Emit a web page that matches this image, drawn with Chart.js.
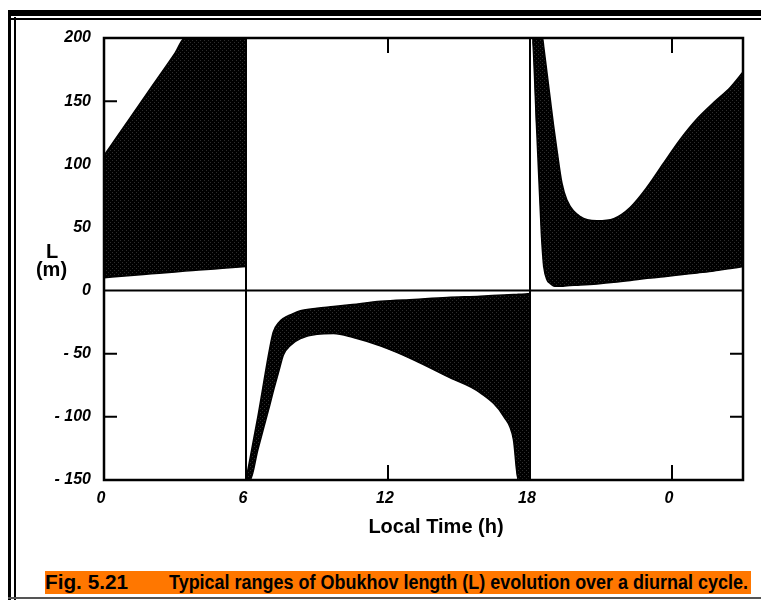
<!DOCTYPE html>
<html>
<head>
<meta charset="utf-8">
<script src="https://cdn.jsdelivr.net/npm/chart.js@4/dist/chart.umd.min.js"></script>
<style>
  html, body { margin: 0; padding: 0; background: #fff; }
  #wrap { position: relative; width: 761px; height: 600px; overflow: hidden; }
  #chart { position: absolute; left: 0; top: 0; }
  .bar { position: absolute; background: #000; }
  #caption { position: absolute; left: 45px; top: 571px; width: 706px; height: 23px; background: #ff7700;
             font-family: "Liberation Sans", Arial, sans-serif; font-weight: bold; font-size: 20px; line-height: 23px; color: #000; }
  #caption span { position: absolute; top: 0; white-space: nowrap; transform-origin: left center; }
</style>
</head>
<body>
<div id="wrap">
  <canvas id="chart" width="761" height="600"></canvas>
  <div class="bar" style="left:8px;top:10px;width:753px;height:6px"></div>
  <div class="bar" style="left:8px;top:17.5px;width:753px;height:2.5px"></div>
  <div class="bar" style="left:8px;top:10px;width:3px;height:590px"></div>
  <div class="bar" style="left:13.5px;top:17px;width:2.5px;height:583px"></div>
  <div class="bar" style="left:8px;top:597px;width:753px;height:2px;background:#555"></div>
  <div id="caption">
    <span id="capA" style="left:0">Fig. 5.21</span>
    <span id="capB" style="left:124px">Typical ranges of Obukhov length (L) evolution over a diurnal cycle.</span>
  </div>
</div>
<script>
// morning (0-6 h), stable range of L
const morningHours = [0, 1, 2, 3, 3.42, 4, 5, 6];
const morningLower = [10.2, 11.8, 13.3, 14.8, 15.4, 16.2, 17.6, 19];
const morningUpper = [107, 134, 161, 188, 200, 200, 200, 200];

// daytime (6-18 h), unstable range of L
const dayHours = [6.0, 6.17, 6.5, 7.0, 7.15, 7.4, 7.58, 7.9, 8.3, 9.0, 9.7, 10.5, 11.7, 13.1, 14.5, 15.9, 16.9, 17.3, 17.5, 17.8, 18.0];
const dayLower = [-150, -150, -126, -91, -80, -63, -51, -43, -38, -34.5, -34, -37, -44, -55, -68, -81, -100, -118, -150, -150, -150];
const dayUpper = [-150, -133, -100, -46, -33, -25, -22, -19, -16, -14, -12.7, -11, -8.5, -7, -5.5, -4.5, -3.5, -3.2, -3, -2.7, -2.5];

// evening / night (18-27 h), stable range of L
const nightHours = [18.0, 18.08, 18.29, 18.48, 18.53, 18.58, 18.72, 18.86, 19.0, 19.14, 19.35, 19.56, 20.13, 20.83, 21.54, 22.24, 22.95, 23.65, 24.36, 25.06, 25.77, 26.47, 27.0];
const nightLower = [200, 200, 124.5, 45, 30, 19, 8.4, 5.5, 3.6, 3.4, 3.5, 3.8, 4.4, 5.3, 6.5, 8, 9.7, 11, 12.5, 14, 15.5, 17.5, 19];
const nightUpper = [200, 200, 200, 200, 200, 193, 172, 151, 130, 111, 85, 71.7, 58.5, 55.3, 57, 66, 82, 101, 120, 136, 149, 161, 173];

const xTicks = [0, 6, 12, 18, 24];
const yTicks = [-150, -100, -50, 0, 50, 100, 150, 200];
const innerYTicks = [150, 100, 50, -50, -100];
const innerXTicks = [12, 24];
const dividers = [6, 18];

// speckled dark fill
const pat = document.createElement('canvas');
pat.width = 4; pat.height = 4;
const pc = pat.getContext('2d');
pc.fillStyle = '#000';
pc.fillRect(0, 0, 4, 4);
pc.fillStyle = '#2e2e2e';
pc.fillRect(0, 0, 1, 1);
pc.fillRect(2, 2, 1, 1);
const shade = pc.createPattern(pat, 'repeat');

function pts(xs, ys) {
    return xs.map((x, i) => ({ x: x, y: ys[i] }));
}

function band(xs, lower, upper) {
    const common = { borderColor: '#000', borderWidth: 1.5, pointRadius: 0, cubicInterpolationMode: 'monotone' };
    return [
        Object.assign({ data: pts(xs, lower), fill: false }, common),
        Object.assign({ data: pts(xs, upper), fill: '-1', backgroundColor: shade }, common),
    ];
}

const frame = {
    id: 'frame',
    beforeDatasetsDraw(chart) {
        const { ctx, chartArea: a, scales: { x, y } } = chart;
        ctx.save();
        ctx.strokeStyle = '#000';
        ctx.lineWidth = 2;
        ctx.beginPath();
        innerYTicks.forEach(v => {
            const py = y.getPixelForValue(v);
            ctx.moveTo(a.left, py); ctx.lineTo(a.left + 13, py);
            ctx.moveTo(a.right, py); ctx.lineTo(a.right - 13, py);
        });
        innerXTicks.forEach(v => {
            const px = x.getPixelForValue(v);
            ctx.moveTo(px, a.top); ctx.lineTo(px, a.top + 15);
            ctx.moveTo(px, a.bottom); ctx.lineTo(px, a.bottom - 15);
        });
        ctx.stroke();
        ctx.restore();
    },
    afterDatasetsDraw(chart) {
        const { ctx, chartArea: a, scales: { x, y } } = chart;
        ctx.save();
        ctx.strokeStyle = '#000';
        ctx.lineWidth = 2;
        ctx.beginPath();
        dividers.forEach(v => {
            const px = x.getPixelForValue(v);
            ctx.moveTo(px, a.top); ctx.lineTo(px, a.bottom);
        });
        const y0 = y.getPixelForValue(0);
        ctx.moveTo(a.left, y0); ctx.lineTo(a.right, y0);
        ctx.stroke();
        ctx.lineWidth = 2.5;
        ctx.strokeRect(a.left, a.top, a.right - a.left, a.bottom - a.top);

        // axis titles
        ctx.fillStyle = '#000';
        ctx.font = 'bold 20px "Liberation Sans", Arial, sans-serif';
        ctx.textAlign = 'center';
        ctx.textBaseline = 'alphabetic';
        ctx.fillText('L', 52, 258);
        ctx.fillText('(m)', 51.5, 276);
        ctx.fillText('Local Time (h)', 436, 533);
        ctx.restore();
    }
};

const tickFont = { family: '"Liberation Sans", Arial, sans-serif', size: 16, weight: 'bold', style: 'italic' };

new Chart(document.getElementById('chart'), {
    type: 'line',
    data: {
        datasets: [
            ...band(morningHours, morningLower, morningUpper),
            ...band(dayHours, dayLower, dayUpper),
            ...band(nightHours, nightLower, nightUpper),
        ],
    },
    options: {
        responsive: false,
        devicePixelRatio: 1,
        animation: false,
        layout: { padding: { top: 38, right: 18, left: 0, bottom: 0 } },
        plugins: { legend: { display: false }, tooltip: { enabled: false } },
        scales: {
            x: {
                type: 'linear',
                min: 0,
                max: 27,
                afterFit: s => { s.height = 120; },
                afterBuildTicks: s => { s.ticks = xTicks.map(v => ({ value: v })); },
                grid: { display: false },
                border: { display: false },
                ticks: {
                    color: '#000',
                    font: tickFont,
                    padding: 1,
                    labelOffset: -3,
                    maxRotation: 0,
                    callback: v => String(v % 24),
                },
            },
            y: {
                min: -150,
                max: 200,
                afterFit: s => { s.width = 104; },
                afterBuildTicks: s => { s.ticks = yTicks.map(v => ({ value: v })); },
                grid: { display: false },
                border: { display: false },
                ticks: {
                    color: '#000',
                    font: tickFont,
                    padding: 5,
                    callback: v => (v < 0 ? '- ' + (-v) : String(v)),
                },
            },
        },
    },
    plugins: [frame],
});

// stretch caption text to the widths seen in the figure
function fit(id, w) {
    const el = document.getElementById(id);
    el.style.transform = 'scaleX(' + (w / el.getBoundingClientRect().width) + ')';
}
fit('capA', 83);
fit('capB', 579);
</script>
</body>
</html>
